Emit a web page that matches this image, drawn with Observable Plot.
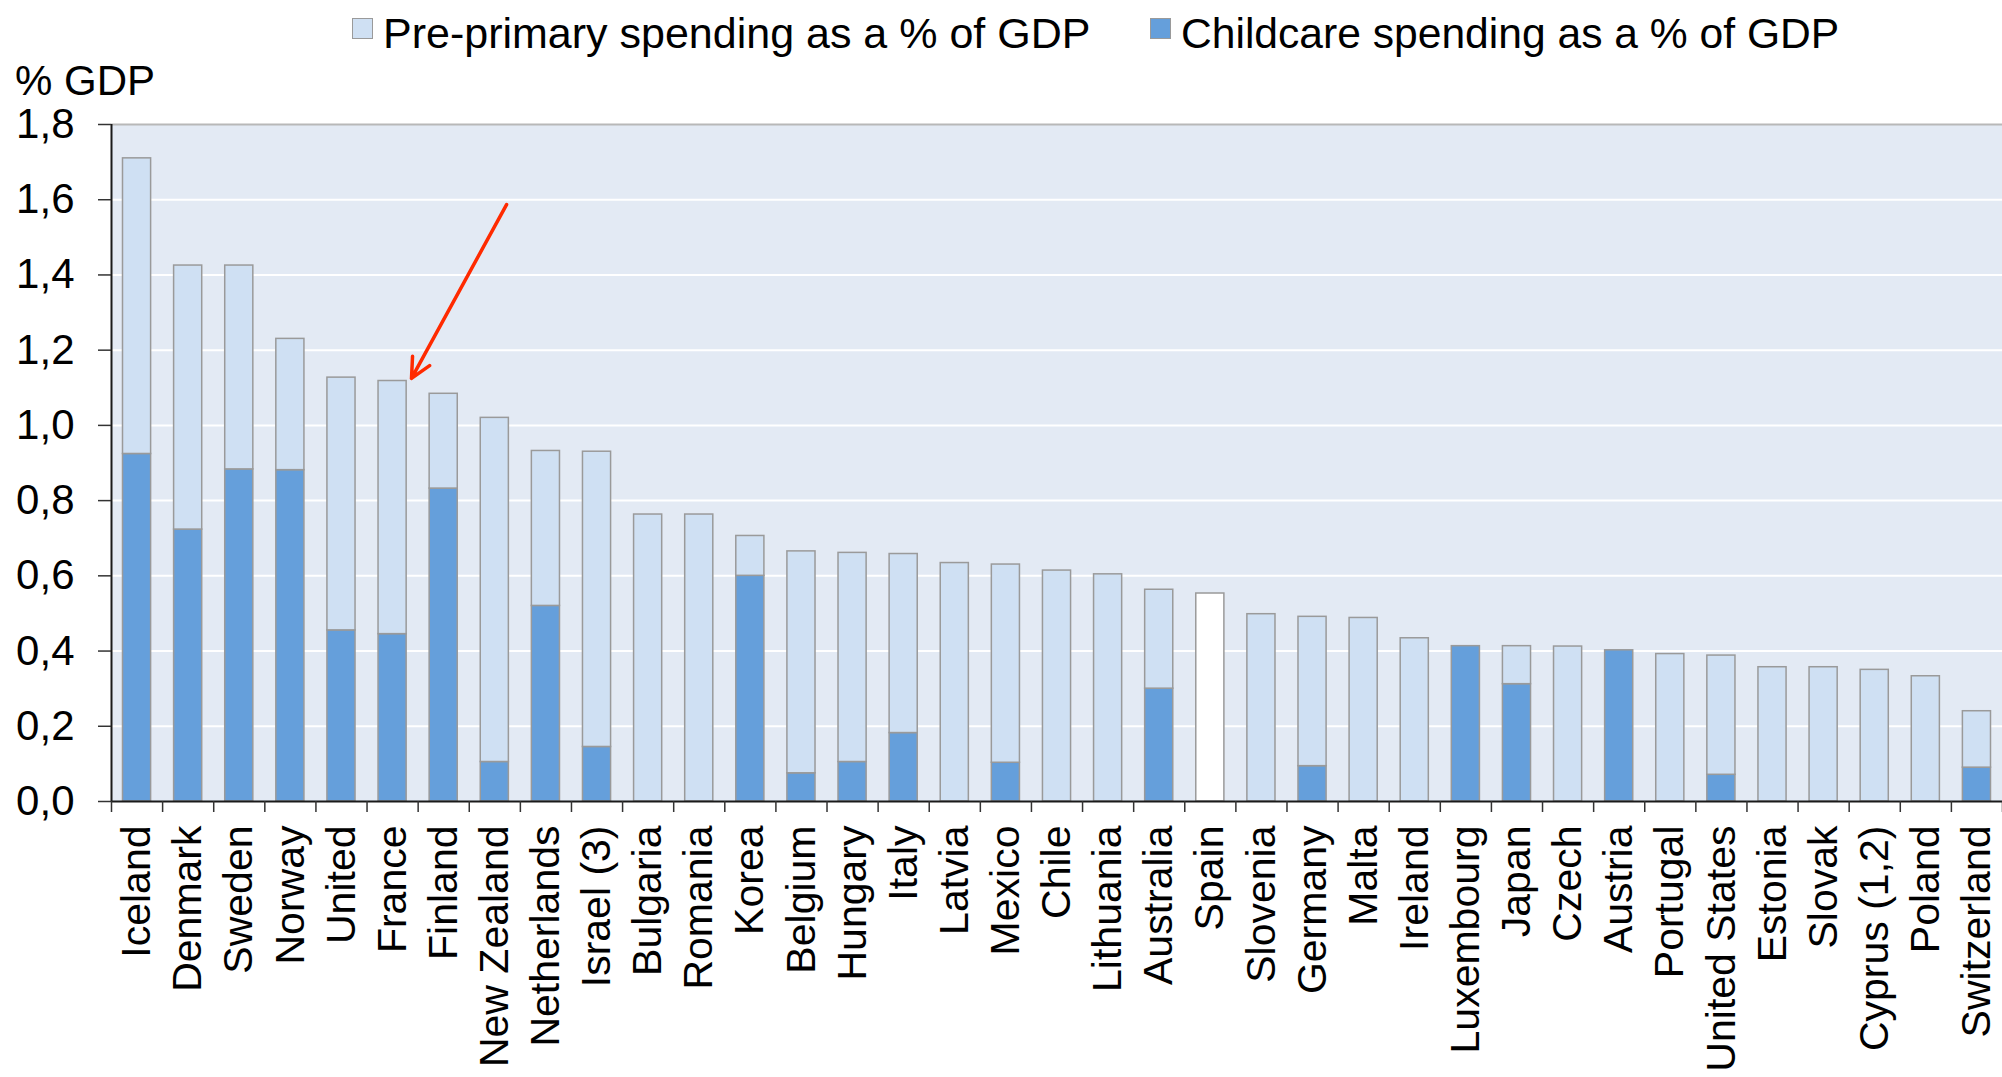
<!DOCTYPE html>
<html>
<head>
<meta charset="utf-8">
<script src="https://cdn.jsdelivr.net/npm/d3@7"></script>
<script src="https://cdn.jsdelivr.net/npm/@observablehq/plot@0.6"></script>
<style>
  html, body { margin: 0; padding: 0; background: #fff; }
  body { width: 2002px; height: 1077px; position: relative; overflow: hidden; font-family: "Liberation Sans", Arial, sans-serif; color: #000; }
  .abs { position: absolute; white-space: nowrap; line-height: 1; }
  .sw { position: absolute; width: 19px; height: 19px; border: 1.5px solid #9a9a9a; }
  #chart { position: absolute; left: 0; top: 60px; }
</style>
</head>
<body>
<div class="sw" style="left:352px; top:18px; background:#cfe0f3;"></div>
<div class="abs" style="left:383px; top:12px; font-size:43px;">Pre-primary spending as a % of GDP</div>
<div class="sw" style="left:1150px; top:18px; background:#659fdb;"></div>
<div class="abs" style="left:1181px; top:12px; font-size:42.6px;">Childcare spending as a % of GDP</div>
<div class="abs" style="left:15px; top:60px; font-size:42px;">% GDP</div>
<div id="chart"></div>
<script>
const countries = ["Iceland","Denmark","Sweden","Norway","United","France","Finland","New Zealand","Netherlands","Israel (3)","Bulgaria","Romania","Korea","Belgium","Hungary","Italy","Latvia","Mexico","Chile","Lithuania","Australia","Spain","Slovenia","Germany","Malta","Ireland","Luxembourg","Japan","Czech","Austria","Portugal","United States","Estonia","Slovak","Cyprus (1,2)","Poland","Switzerland"];
const childcare = [0.924,0.723,0.883,0.881,0.455,0.445,0.832,0.105,0.52,0.145,0,0,0.60,0.075,0.105,0.182,0,0.103,0,0,0.30,0,0,0.094,0,0,0.413,0.312,0,0.402,0,0.071,0,0,0,0,0.09];
const preprimary = [0.786,0.702,0.542,0.349,0.672,0.673,0.252,0.915,0.412,0.785,0.763,0.763,0.106,0.59,0.556,0.476,0.634,0.527,0.614,0.604,0.263,0.553,0.498,0.397,0.488,0.434,0,0.101,0.412,0,0.392,0.317,0.357,0.357,0.350,0.333,0.15];
const highlighted = ["Spain"];
const yTicks = [0,0.2,0.4,0.6,0.8,1.0,1.2,1.4,1.6,1.8];
// annotation arrow (x in category-index units, y in % GDP)
const arrowFrom = {x: 7.73, y: 1.587};
const arrowTo = {x: 5.87, y: 1.125};

const rows = countries.map((c, i) => ({
  country: c, i,
  child: childcare[i],
  pre: preprimary[i],
  total: childcare[i] + preprimary[i]
}));
const pad = 0.225;

const chart = Plot.plot({
  width: 2002,
  height: 1017,
  marginLeft: 111,
  marginRight: 0,
  marginTop: 64,
  marginBottom: 276,
  style: {fontFamily: "'Liberation Sans', Arial, sans-serif", background: "transparent", color: "#000"},
  x: {domain: [0, countries.length], axis: null},
  y: {domain: [0, 1.8], axis: null},
  marks: [
    Plot.frame({fill: "#e3eaf4", stroke: null}),
    Plot.ruleY(yTicks.slice(1, -1), {stroke: "#ffffff", strokeWidth: 2}),
    Plot.ruleY([1.8], {stroke: "#b8b8b8", strokeWidth: 2}),
    Plot.rectY(rows.filter(d => d.child > 0), {
      x1: d => d.i + pad, x2: d => d.i + 1 - pad, y1: 0, y2: d => d.child,
      fill: "#659fdb", stroke: "#9a9a9a", strokeWidth: 1.5
    }),
    Plot.rectY(rows.filter(d => d.pre > 0), {
      x1: d => d.i + pad, x2: d => d.i + 1 - pad, y1: d => d.child, y2: d => d.total,
      fill: d => highlighted.includes(d.country) ? "#ffffff" : "#cfe0f3",
      stroke: "#9a9a9a", strokeWidth: 1.5
    }),
    Plot.ruleY([0], {stroke: "#1a1a1a", strokeWidth: 2}),
    Plot.ruleX([0], {stroke: "#1a1a1a", strokeWidth: 2}),
    Plot.axisY(yTicks, {
      tickSize: 13, tickPadding: 24, fontSize: 42, stroke: "#333", strokeWidth: 1.5,
      tickFormat: d => d.toFixed(1).replace(".", ","), label: null
    }),
    Plot.axisX(d3.range(countries.length + 1), {
      tickSize: 11, tickFormat: () => "", stroke: "#333", strokeWidth: 1.5, label: null
    }),
    Plot.text(rows, {
      x: d => d.i + 0.5, y: 0, text: "country", rotate: -90, textAnchor: "end",
      lineAnchor: "middle", dy: 24, fontSize: 41, fill: "#000"
    }),
    Plot.arrow([{x1: arrowFrom.x, y1: arrowFrom.y, x2: arrowTo.x, y2: arrowTo.y}], {
      x1: "x1", y1: "y1", x2: "x2", y2: "y2",
      stroke: "#ff2a00", strokeWidth: 3.5, headLength: 9.5, headAngle: 52
    })
  ]
});
document.getElementById("chart").appendChild(chart);
</script>
</body>
</html>
